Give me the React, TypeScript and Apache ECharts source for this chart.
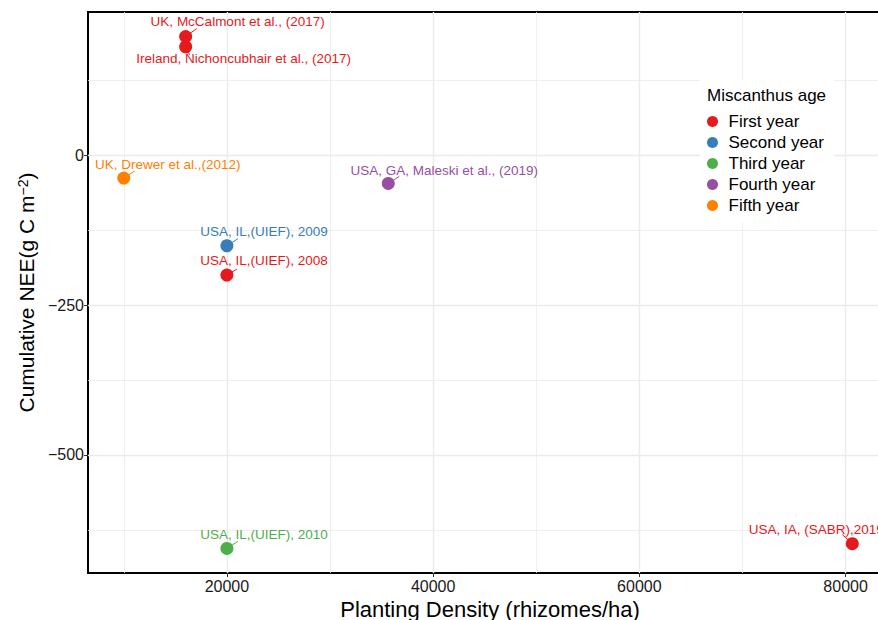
import React, { useEffect, useRef } from "react";
import * as echarts from "echarts";

const FONT = '"Liberation Sans", Arial, sans-serif';

const ageGroups = ["First year", "Second year", "Third year", "Fourth year", "Fifth year"];
const ageColors = ["#E41A1C", "#377EB8", "#4DAF4A", "#984EA3", "#FF7F00"];

const studies = [
  "UK, McCalmont et al., (2017)",
  "Ireland, Nichoncubhair et al., (2017)",
  "UK, Drewer et al.,(2012)",
  "USA, GA, Maleski et al., (2019)",
  "USA, IL,(UIEF), 2009",
  "USA, IL,(UIEF), 2008",
  "USA, IL,(UIEF), 2010",
  "USA, IA, (SABR),2019",
];
const density = [16000, 16000, 10000, 35650, 20000, 20000, 20000, 80650];
const nee = [198, 181, -38, -47, -151, -200, -656, -648];
const studyAge = [
  "First year",
  "First year",
  "Fifth year",
  "Fourth year",
  "Second year",
  "First year",
  "Third year",
  "First year",
];
// label centre offsets (dx, dy) from point centre, in pixels
const labelOffsets = [
  [52, -15],
  [58, 12],
  [44, -14],
  [56, -13],
  [37, -14],
  [37, -15],
  [37, -14],
  [-36, -14],
];
// connector segment end offsets from point centre, in pixels
const connectorEnds = [
  [11, -8],
  [4, 8],
  [11, -7],
  [11, -7],
  [11, -7],
  [10, -6],
  [11, -7],
  [-10, -9],
];

const xTicks = [20000, 40000, 60000, 80000];
const xMinor = [10000, 30000, 50000, 70000];
const yTicks = [-500, -250, 0];
const yMinor = [-625, -375, -125, 125];
const xLimits = [6530, 84500];
const yLimits = [-697, 239];

export default function App() {
  const ref = useRef<HTMLDivElement>(null);
  useEffect(() => {
    if (!ref.current) return;
    const chart = echarts.init(ref.current, undefined, { renderer: "svg" });

    const colorOf = (i: number) => ageColors[ageGroups.indexOf(studyAge[i])];

    const series: any[] = ageGroups.map((g, gi) => ({
      type: "scatter",
      name: g,
      symbol: "circle",
      symbolSize: 13,
      z: 3,
      itemStyle: { color: ageColors[gi], opacity: 1 },
      data: studies
        .map((_, i) => i)
        .filter((i) => studyAge[i] === g)
        .map((i) => ({ name: studies[i], value: [density[i], nee[i]] })),
    }));

    // text labels with short connector segments (ggrepel style)
    series.push({
      type: "custom",
      name: "__labels",
      z: 2,
      silent: true,
      data: studies.map((_, i) => [density[i], nee[i], i]),
      renderItem: (params: any, api: any) => {
        const i = api.value(2);
        const pt = api.coord([api.value(0), api.value(1)]);
        const c = colorOf(i);
        return {
          type: "group",
          children: [
            {
              type: "line",
              shape: {
                x1: pt[0],
                y1: pt[1],
                x2: pt[0] + connectorEnds[i][0],
                y2: pt[1] + connectorEnds[i][1],
              },
              style: { stroke: c, lineWidth: 1 },
            },
            {
              type: "text",
              x: pt[0] + labelOffsets[i][0],
              y: pt[1] + labelOffsets[i][1],
              style: {
                text: studies[i],
                fill: c,
                fontSize: 13.5,
                fontFamily: FONT,
                align: "center",
                verticalAlign: "middle",
              },
            },
          ],
        };
      },
    });

    const gridColor = "#EBEBEB";
    series.push({
      type: "scatter",
      name: "__grid",
      data: [],
      silent: true,
      markLine: {
        silent: true,
        z: 1,
        symbol: ["none", "none"],
        label: { show: false },
        lineStyle: { color: gridColor, type: "solid", width: 1.4 },
        data: [
          ...xTicks.map((v) => ({ xAxis: v, lineStyle: { width: 1.4, color: gridColor, type: "solid" } })),
          ...xMinor.map((v) => ({ xAxis: v, lineStyle: { width: 0.8, color: gridColor, type: "solid" } })),
          ...yTicks.map((v) => ({ yAxis: v, lineStyle: { width: 1.4, color: gridColor, type: "solid" } })),
          ...yMinor.map((v) => ({ yAxis: v, lineStyle: { width: 0.8, color: gridColor, type: "solid" } })),
        ],
      },
    });

    const fmt = (v: number) => (v < 0 ? "\u2212" + Math.abs(v) : String(v));

    chart.setOption({
      animation: false,
      backgroundColor: "#fff",
      grid: {
        left: 88,
        top: 12,
        width: 804,
        height: 561,
        outerBoundsMode: "none",
        containLabel: false,
        show: true,
        borderColor: "#000",
        borderWidth: 2,
        backgroundColor: "#fff",
      },
      xAxis: {
        type: "value",
        min: xLimits[0],
        max: xLimits[1],
        name: "Planting Density (rhizomes/ha)",
        nameLocation: "middle",
        nameGap: 24,
        nameTextStyle: { fontSize: 22, color: "#000", fontFamily: FONT },
        axisLine: { show: true, onZero: false, lineStyle: { color: "#000", width: 2 } },
        axisTick: { show: true, length: 4, customValues: xTicks, lineStyle: { color: "#333", width: 1 } },
        axisLabel: { customValues: xTicks, margin: 5, fontSize: 16, color: "#1a1a1a", fontFamily: FONT, formatter: fmt },
        splitLine: { show: false },
      },
      yAxis: {
        type: "value",
        min: yLimits[0],
        max: yLimits[1],
        name: "Cumulative NEE(g C m{sup|\u22122})",
        nameLocation: "middle",
        nameGap: 49,
        nameTextStyle: {
          fontSize: 21,
          color: "#000",
          fontFamily: FONT,
          rich: { sup: { fontSize: 14, color: "#000", fontFamily: FONT, verticalAlign: "top" } },
        },
        axisLine: { show: true, onZero: false, lineStyle: { color: "#000", width: 2 } },
        axisTick: { show: true, length: 4, customValues: yTicks, lineStyle: { color: "#333", width: 1 } },
        axisLabel: { customValues: yTicks, margin: 4, fontSize: 16, color: "#1a1a1a", fontFamily: FONT, formatter: fmt },
        splitLine: { show: false },
      },
      legend: {
        data: ageGroups,
        orient: "vertical",
        left: 700,
        top: 80,
        padding: [33, 10, 8, 7],
        backgroundColor: "#fff",
        icon: "circle",
        itemWidth: 22,
        itemHeight: 11,
        itemGap: 4,
        z: 5,
        textStyle: { fontSize: 17, lineHeight: 17, color: "#000", fontFamily: FONT },
      },
      graphic: [
        {
          type: "text",
          left: 707,
          top: 87,
          z: 10,
          style: { text: "Miscanthus age", fontSize: 17, fill: "#000", fontFamily: FONT },
        },
      ],
      series,
    });

    return () => chart.dispose();
  }, []);

  return (
    <div
      ref={ref}
      style={{ position: "fixed", left: 0, top: 0, width: 878, height: 620 }}
    />
  );
}
